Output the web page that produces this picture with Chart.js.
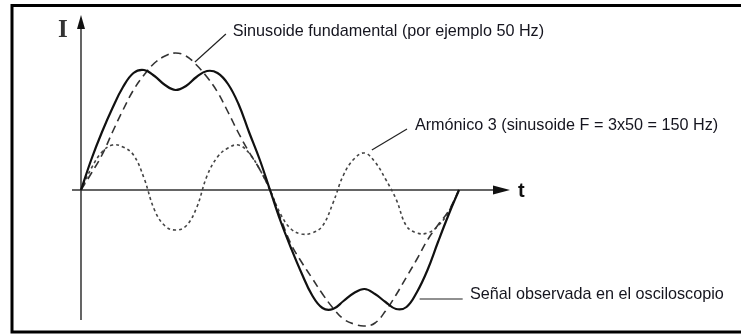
<!DOCTYPE html>
<html>
<head>
<meta charset="utf-8">
<script src="https://cdn.jsdelivr.net/npm/chart.js@4/dist/chart.umd.min.js"></script>
<style>
  html, body { margin: 0; padding: 0; background: #fff; }
  canvas { display: block; }
</style>
</head>
<body>
<canvas id="chart" width="741" height="335"></canvas>
<script>
// Phase of the fundamental (degrees over one period)
const phase = [0, 10, 20, 30, 40, 50, 60, 70, 80, 90, 100, 110, 120, 130, 140, 150, 160, 170, 180,
               190, 200, 210, 220, 230, 240, 250, 260, 270, 280, 290, 300, 310, 320, 330, 340, 350, 360];

// Current, in arbitrary units (positive = up)
const fundamental = [0, 17, 35, 58, 80, 100, 115, 127, 134, 137, 134, 125, 113, 98, 78, 57, 38, 21, 0,
                     -28, -54, -72, -88, -104, -118, -129, -134, -136, -133, -121, -105, -87, -69, -50, -35, -21, 0];
const harmonic3 = [0, 22, 38, 45, 43, 35, 12, -20, -36, -40, -36, -18, 14, 33, 42, 45, 37, 21, 0,
                   -24, -39, -44, -43, -36, -13, 15, 31, 37, 28, 11, -9, -36, -43, -43, -36, -22, 0];
const observed = [0, 31, 58, 82, 103, 117, 120, 114, 105, 100, 104, 113, 119, 117, 106, 86, 58, 31, 0,
                  -31, -58, -83, -105, -118, -119, -111, -103, -99, -104, -112, -119, -117, -102, -80, -52, -25, 0];

// Captions and their leader lines (phase, value)
const fundLabel = 'Sinusoide fundamental (por ejemplo 50 Hz)';
const harmLabel = 'Armónico 3 (sinusoide F = 3x50 = 150 Hz)';
const sigLabel = 'Señal observada en el osciloscopio';
const fundLeader = [[108.5, 128], [138, 156]];
const harmLeader = [[277, 40], [310.5, 61]];
const sigLeader = [[322.5, -109], [363.5, -109]];
const fundText = [144.5, 154];
const harmText = [318, 60];
const sigText = [370.5, -109];

const toPoints = (values) => phase.map((p, i) => ({ x: p, y: values[i] }));

const FONT = '"Liberation Sans", Arial, sans-serif';

// axes with arrow heads, frame and captions
const diagramPlugin = {
    id: 'diagram',
    beforeDatasetsDraw(chart) {
        const { ctx, scales: { x, y } } = chart;
        const x0 = x.getPixelForValue(0);
        const y0 = y.getPixelForValue(0);

        ctx.save();
        // frame
        ctx.strokeStyle = '#000';
        ctx.lineWidth = 3;
        ctx.beginPath();
        ctx.moveTo(760, 5.5);
        ctx.lineTo(12, 5.5);
        ctx.lineTo(12, 332);
        ctx.lineTo(760, 332);
        ctx.stroke();

        // axes
        ctx.strokeStyle = '#333';
        ctx.fillStyle = '#111';
        ctx.lineWidth = 1.5;
        const xEnd = x.getPixelForValue(408.6);
        const yTop = y.getPixelForValue(175);
        ctx.beginPath();
        ctx.moveTo(x.getPixelForValue(-8.6), y0);
        ctx.lineTo(xEnd - 10, y0);
        ctx.moveTo(x0, y.getPixelForValue(-130));
        ctx.lineTo(x0, yTop + 10);
        ctx.stroke();

        ctx.beginPath();
        ctx.moveTo(xEnd, y0);
        ctx.lineTo(xEnd - 17, y0 - 4.5);
        ctx.lineTo(xEnd - 17, y0 + 4.5);
        ctx.closePath();
        ctx.fill();

        ctx.beginPath();
        ctx.moveTo(x0, yTop);
        ctx.lineTo(x0 - 4, yTop + 14);
        ctx.lineTo(x0 + 4, yTop + 14);
        ctx.closePath();
        ctx.fill();
        ctx.restore();
    },
    afterDraw(chart) {
        const { ctx, scales: { x, y } } = chart;
        const px = (p) => [x.getPixelForValue(p[0]), y.getPixelForValue(p[1])];

        ctx.save();
        // axis names
        ctx.fillStyle = '#222';
        ctx.textBaseline = 'alphabetic';
        ctx.font = 'bold 25px "Liberation Serif", "Times New Roman", serif';
        ctx.fillStyle = '#333';
        ctx.fillText('I', 58, 37);
        ctx.fillStyle = '#111';
        ctx.font = 'bold 20px ' + FONT;
        ctx.fillText('t', 518, 197);

        // leader lines
        ctx.strokeStyle = '#222';
        ctx.lineWidth = 1.2;
        [fundLeader, harmLeader, sigLeader].forEach(seg => {
            const a = px(seg[0]), b = px(seg[1]);
            ctx.beginPath();
            ctx.moveTo(a[0], a[1]);
            ctx.lineTo(b[0], b[1]);
            ctx.stroke();
        });

        // captions
        ctx.font = '16.2px ' + FONT;
        ctx.fillStyle = '#15151f';
        [[fundLabel, fundText], [harmLabel, harmText], [sigLabel, sigText]].forEach(([txt, pos]) => {
            const p = px(pos);
            ctx.fillText(txt, p[0], p[1]);
        });
        ctx.restore();
    }
};

new Chart(document.getElementById('chart'), {
    type: 'line',
    data: {
        datasets: [
            {
                label: 'Señal observada',
                data: toPoints(observed),
                borderColor: '#111',
                borderWidth: 2.2,
                tension: 0.4,
                pointRadius: 0
            },
            {
                label: 'Fundamental',
                data: toPoints(fundamental),
                borderColor: '#333',
                borderWidth: 1.6,
                borderDash: [8, 5],
                tension: 0.4,
                pointRadius: 0
            },
            {
                label: 'Armónico 3',
                data: toPoints(harmonic3),
                borderColor: '#444',
                borderWidth: 1.6,
                borderDash: [3, 3],
                tension: 0.4,
                pointRadius: 0
            }
        ]
    },
    options: {
        responsive: false,
        animation: false,
        layout: { padding: 0 },
        plugins: {
            legend: { display: false },
            tooltip: { enabled: false }
        },
        scales: {
            x: { type: 'linear', min: -77.14, max: 628.57, display: false },
            y: { min: -145, max: 190, display: false }
        }
    },
    plugins: [diagramPlugin]
});
</script>
</body>
</html>
